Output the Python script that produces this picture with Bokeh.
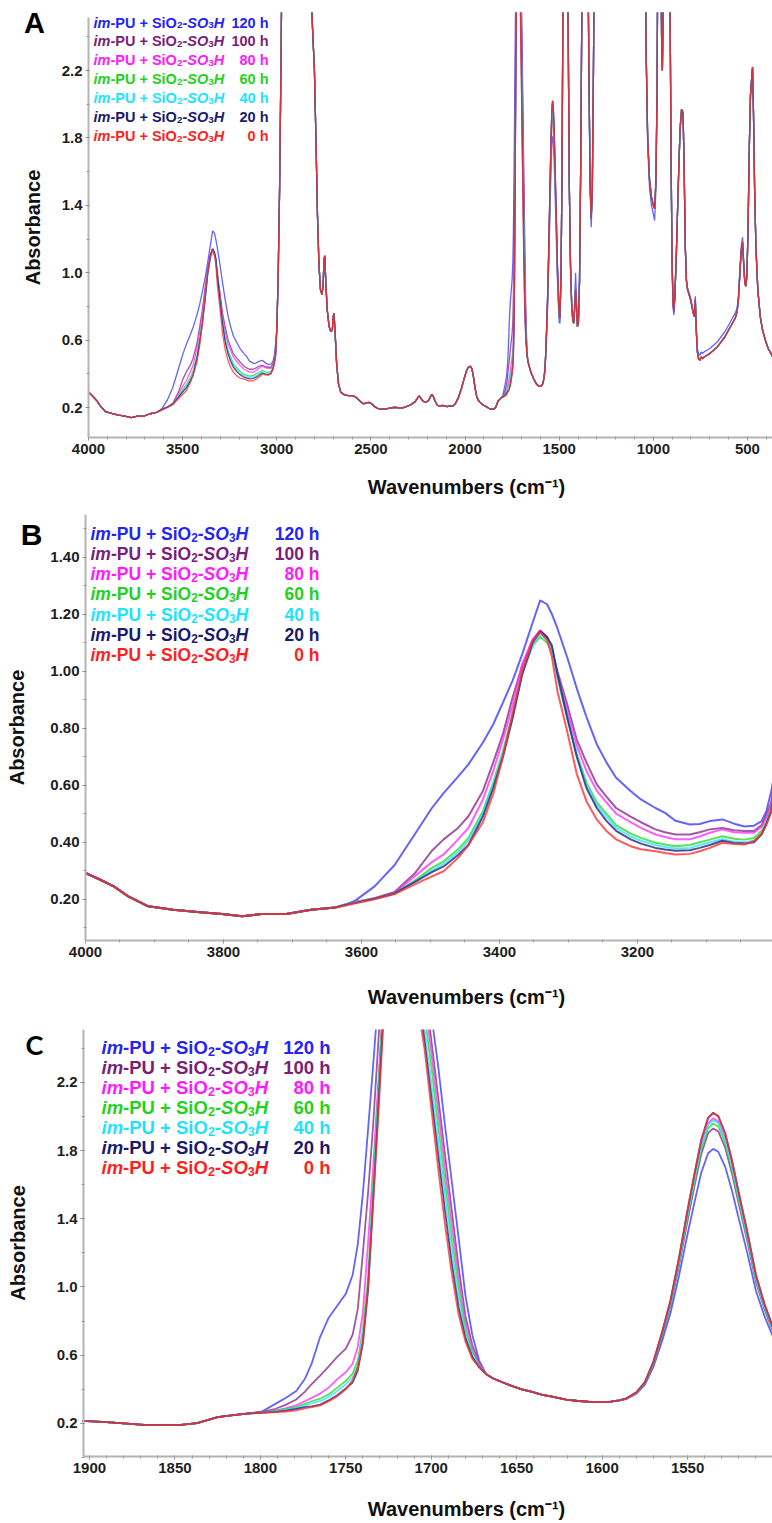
from bokeh.plotting import figure
from bokeh.layouts import column
from bokeh.models import Label, Range1d, FixedTicker, NumeralTickFormatter, ColumnDataSource
from bokeh.embed import file_html
from bokeh.resources import INLINE

FONT = "Liberation Sans"

# ------------------------------------------------------------------ data
series_labels = ["120 h", "100 h", "80 h", "60 h", "40 h", "20 h", "0 h"]
text_colors = ["#2525f2", "#7a1e7a", "#ff1aff", "#1fd21f", "#1ee3ff", "#1a1a6e", "#ff1f1f"]
line_colors = ["#3c3cff", "#8a2e8a", "#ff33ff", "#2edb2e", "#33e3ff", "#24247a", "#ff3030"]

# N-H stretching region (shared part, 4000-3638 cm-1)
wn_nh_base = [4000, 3980, 3959, 3938, 3909, 3873, 3838, 3802, 3773, 3745, 3709, 3673, 3638]
abs_nh_base = [0.292, 0.27, 0.245, 0.21, 0.175, 0.163, 0.155, 0.148, 0.14, 0.148, 0.148, 0.163, 0.171]

wn_nh = [3623, 3609, 3581, 3552, 3523, 3498, 3481, 3460, 3445, 3424, 3409, 3395, 3381, 3367,
         3352, 3341, 3331, 3324, 3316, 3302, 3288, 3274, 3259, 3245, 3231, 3210, 3195, 3174,
         3160, 3145, 3124, 3110, 3095, 3077, 3060, 3045, 3031, 3020, 3013, 3006]
abs_nh_120 = [0.182, 0.195, 0.245, 0.32, 0.427, 0.52, 0.572, 0.63, 0.673, 0.75, 0.814, 0.89, 0.967, 1.06,
              1.17, 1.249, 1.235, 1.20, 1.15, 1.05, 0.94, 0.84, 0.744, 0.68, 0.626, 0.58, 0.55, 0.52,
              0.503, 0.475, 0.462, 0.464, 0.474, 0.48, 0.465, 0.455, 0.458, 0.474, 0.51, 0.58]
abs_nh_100 = [0.18, 0.19, 0.203, 0.225, 0.29, 0.37, 0.41, 0.45, 0.491, 0.58, 0.68, 0.78, 0.908, 1.02,
              1.11, 1.143, 1.12, 1.073, 1.00, 0.885, 0.76, 0.68, 0.603, 0.56, 0.52, 0.49, 0.47, 0.445,
              0.435, 0.427, 0.427, 0.435, 0.445, 0.45, 0.442, 0.439, 0.439, 0.46, 0.497, 0.54]
abs_nh_80 = [0.18, 0.19, 0.203, 0.222, 0.28, 0.33, 0.357, 0.41, 0.45, 0.55, 0.65, 0.76, 0.88, 1.026,
             1.11, 1.143, 1.11, 1.084, 0.99, 0.861, 0.74, 0.65, 0.58, 0.54, 0.50, 0.47, 0.45, 0.427,
             0.418, 0.41, 0.41, 0.42, 0.433, 0.445, 0.435, 0.433, 0.433, 0.455, 0.486, 0.535]
abs_nh_60 = [0.18, 0.188, 0.202, 0.22, 0.265, 0.31, 0.333, 0.375, 0.415, 0.51, 0.61, 0.72, 0.85, 0.996,
             1.09, 1.12, 1.10, 1.073, 0.98, 0.838, 0.71, 0.61, 0.54, 0.50, 0.46, 0.43, 0.415, 0.398,
             0.392, 0.386, 0.39, 0.40, 0.409, 0.421, 0.412, 0.409, 0.415, 0.44, 0.474, 0.52]
abs_nh_40 = [0.18, 0.188, 0.202, 0.22, 0.262, 0.30, 0.325, 0.365, 0.405, 0.50, 0.60, 0.71, 0.84, 0.99,
             1.09, 1.13, 1.11, 1.08, 0.98, 0.84, 0.71, 0.60, 0.53, 0.49, 0.45, 0.42, 0.405, 0.39,
             0.383, 0.378, 0.38, 0.39, 0.40, 0.41, 0.402, 0.40, 0.405, 0.43, 0.47, 0.515]
abs_nh_20 = [0.18, 0.187, 0.202, 0.22, 0.26, 0.295, 0.315, 0.355, 0.39, 0.49, 0.59, 0.70, 0.835, 0.99,
             1.10, 1.14, 1.12, 1.09, 0.99, 0.84, 0.70, 0.59, 0.52, 0.475, 0.44, 0.41, 0.395, 0.38,
             0.374, 0.37, 0.372, 0.38, 0.39, 0.405, 0.397, 0.395, 0.40, 0.428, 0.465, 0.51]
abs_nh_0 = [0.178, 0.186, 0.2, 0.218, 0.252, 0.28, 0.298, 0.345, 0.39, 0.47, 0.57, 0.70, 0.85, 1.00,
            1.105, 1.137, 1.11, 1.05, 0.93, 0.79, 0.64, 0.544, 0.48, 0.439, 0.41, 0.386, 0.375, 0.368,
            0.362, 0.357, 0.359, 0.368, 0.38, 0.398, 0.394, 0.392, 0.404, 0.43, 0.462, 0.51]

# C-H region and baseline, 3000-1912 cm-1 (all series overlap)
wn_mid = [3000, 2993, 2985, 2977, 2970, 2830, 2818, 2810, 2800, 2792,
          2784, 2776, 2768, 2760, 2754, 2749, 2745, 2740, 2732, 2722,
          2712, 2705, 2700, 2696, 2690, 2682, 2672, 2660, 2640, 2620,
          2600, 2585, 2570, 2555, 2540, 2525, 2510, 2495, 2480, 2465,
          2445, 2420, 2400, 2380, 2360, 2345, 2325, 2305, 2285, 2265,
          2250, 2243, 2235, 2222, 2208, 2195, 2185, 2177, 2170, 2160,
          2148, 2135, 2120, 2108, 2095, 2080, 2065, 2050, 2035, 2020,
          2005, 1993, 1982, 1972, 1963, 1955, 1946, 1937, 1925, 1912]
abs_mid = [0.66, 0.95, 1.5, 2.3, 3.2, 3.2, 2.7, 2.45, 2.2, 1.8,
           1.35, 1.05, 0.9, 0.87, 0.92, 1.08, 1.1, 0.95, 0.78, 0.68,
           0.65, 0.66, 0.74, 0.76, 0.64, 0.46, 0.34, 0.29, 0.275, 0.27,
           0.27, 0.265, 0.25, 0.235, 0.222, 0.228, 0.23, 0.222, 0.205, 0.195,
           0.19, 0.192, 0.196, 0.2, 0.2, 0.196, 0.2, 0.208, 0.218, 0.235,
           0.26, 0.268, 0.255, 0.236, 0.232, 0.24, 0.26, 0.278, 0.27, 0.24,
           0.215, 0.207, 0.212, 0.21, 0.205, 0.21, 0.208, 0.225, 0.26, 0.31,
           0.37, 0.415, 0.44, 0.445, 0.43, 0.38, 0.31, 0.26, 0.235, 0.222]

# carbonyl region 1904-1500 cm-1
wn_c_base = [1904, 1890, 1880, 1866, 1848, 1837, 1825, 1817, 1808]
abs_c_base = [0.215, 0.207, 0.2, 0.19, 0.19, 0.202, 0.237, 0.247, 0.257]

wn_c_rise = [1799, 1791, 1785, 1779, 1774, 1770, 1765, 1760, 1755, 1750, 1746, 1743, 1740, 1737, 1734, 1731, 1728]
abs_rise_120 = [0.27, 0.316, 0.35, 0.39, 0.46, 0.55, 0.708, 0.82, 0.89, 0.96, 1.07, 1.25, 1.55, 1.92, 2.30, 2.7, 3.0]
abs_rise_100 = [0.267, 0.286, 0.31, 0.34, 0.385, 0.43, 0.48, 0.535, 0.59, 0.639, 0.72, 0.87, 1.2, 1.55, 1.95, 2.43, 2.9]
abs_rise_80 = [0.265, 0.275, 0.29, 0.306, 0.33, 0.35, 0.375, 0.41, 0.46, 0.5, 0.55, 0.65, 0.85, 1.257, 1.7, 2.2, 2.7]
abs_rise_60 = [0.265, 0.273, 0.285, 0.296, 0.315, 0.33, 0.345, 0.37, 0.41, 0.45, 0.492, 0.57, 0.75, 1.05, 1.6, 2.15, 2.7]
abs_rise_40 = [0.264, 0.27, 0.28, 0.29, 0.305, 0.318, 0.33, 0.355, 0.39, 0.43, 0.47, 0.54, 0.71, 1.0, 1.55, 2.1, 2.65]
abs_rise_20 = [0.263, 0.268, 0.275, 0.285, 0.295, 0.30, 0.31, 0.335, 0.365, 0.405, 0.44, 0.51, 0.67, 0.98, 1.5, 2.05, 2.6]
abs_rise_0 = [0.262, 0.266, 0.27, 0.276, 0.288, 0.295, 0.306, 0.33, 0.36, 0.40, 0.453, 0.53, 0.68, 1.0, 1.5, 2.0, 2.55]

wn_c_top = [1724, 1716, 1712]
abs_c_top = [3.4, 3.6, 3.5]

wn_c_fall = [1708, 1704, 1700, 1696, 1692, 1688, 1684, 1680, 1676, 1672]
abs_fall_120 = [3.5, 3.1, 2.6, 2.3, 1.95, 1.62, 1.29, 0.95, 0.72, 0.57]
abs_fall_100 = [3.3, 2.8, 2.45, 2.12, 1.78, 1.45, 1.12, 0.83, 0.66, 0.555]
abs_fall_80 = [3.2, 2.7, 2.38, 2.04, 1.70, 1.37, 1.06, 0.79, 0.64, 0.55]
abs_fall_60 = [3.1, 2.6, 2.3, 1.95, 1.62, 1.29, 1.0, 0.75, 0.62, 0.54]
abs_fall_40 = [2.9, 2.52, 2.2, 1.86, 1.54, 1.22, 0.94, 0.72, 0.60, 0.535]
abs_fall_20 = [2.75, 2.45, 2.12, 1.78, 1.45, 1.14, 0.88, 0.70, 0.59, 0.53]
abs_fall_0 = [2.65, 2.4, 2.05, 1.70, 1.37, 1.08, 0.84, 0.68, 0.58, 0.53]

wn_c_valley = [1668, 1664, 1658, 1653, 1647, 1641, 1635, 1630, 1621, 1615, 1608, 1601, 1595, 1590]
abs_c_valley = [0.49, 0.465, 0.44, 0.42, 0.40, 0.385, 0.368, 0.358, 0.34, 0.333, 0.327, 0.325, 0.328, 0.335]

wn_c_peak = [1586, 1580, 1575, 1570, 1565, 1560, 1555, 1550, 1546, 1542,
             1538, 1535, 1532, 1528, 1524, 1520, 1515, 1510, 1505, 1500]
abs_peak_120 = [0.343, 0.374, 0.426, 0.531, 0.68, 0.847, 1.066, 1.311, 1.495, 1.67,
                1.784, 1.81, 1.793, 1.705, 1.565, 1.399, 1.197, 0.978, 0.829, 0.707]
abs_peak_100 = [0.344, 0.377, 0.434, 0.548, 0.709, 0.889, 1.125, 1.39, 1.59, 1.779,
                1.902, 1.93, 1.912, 1.817, 1.665, 1.485, 1.268, 1.031, 0.87, 0.737]
abs_peak_80 = [0.345, 0.379, 0.438, 0.556, 0.723, 0.909, 1.155, 1.43, 1.636, 1.832,
               1.96, 1.99, 1.97, 1.872, 1.715, 1.528, 1.302, 1.057, 0.89, 0.752]
abs_peak_60 = [0.345, 0.378, 0.436, 0.552, 0.716, 0.899, 1.14, 1.41, 1.612, 1.805,
               1.93, 1.959, 1.94, 1.843, 1.689, 1.506, 1.284, 1.043, 0.879, 0.745]
abs_peak_40 = [0.345, 0.379, 0.437, 0.554, 0.72, 0.906, 1.15, 1.423, 1.628, 1.823,
               1.95, 1.979, 1.96, 1.862, 1.706, 1.521, 1.296, 1.052, 0.886, 0.75]
abs_peak_20 = [0.346, 0.382, 0.442, 0.562, 0.732, 0.922, 1.172, 1.452, 1.662, 1.862,
               1.992, 2.022, 2.002, 1.902, 1.742, 1.552, 1.322, 1.072, 0.902, 0.762]
abs_peak_0 = [0.345, 0.38, 0.44, 0.56, 0.73, 0.92, 1.17, 1.45, 1.66, 1.86,
              1.99, 2.02, 2.0, 1.9, 1.74, 1.55, 1.32, 1.07, 0.90, 0.76]

# fingerprint region 1496-365 cm-1
wn_tail = [1496, 1490, 1485, 1480, 1476, 1460, 1452, 1446, 1440, 1434,
           1428, 1423, 1418, 1413, 1408, 1403, 1398, 1392, 1386, 1380,
           1375, 1350, 1342, 1336, 1330, 1324, 1318, 1312, 1045, 1038,
           1030, 1020, 1010, 1000, 993, 986, 980, 975, 962, 956,
           952, 948, 943, 918, 910, 905, 900, 895, 891, 886,
           878, 868, 858, 850, 842, 836, 830, 824, 818, 810,
           802, 795, 788, 782, 777, 772, 766, 760, 753, 746,
           740, 730, 715, 700, 680, 660, 640, 620, 600, 580,
           565, 555, 548, 540, 533, 526, 520, 514, 509, 503,
           497, 490, 484, 478, 473, 468, 462, 455, 445, 432,
           420, 405, 390, 365]
abs_tail = [0.73, 1.0, 1.6, 2.6, 3.2, 3.2, 2.4, 1.5, 1.05, 0.82,
            0.72, 0.70, 0.78, 0.90, 0.80, 0.68, 0.70, 0.95, 1.6, 2.5,
            3.2, 3.2, 2.2, 1.55, 1.32, 1.5, 2.2, 3.2, 3.2, 2.3,
            1.8, 1.55, 1.45, 1.40, 1.38, 1.55, 2.1, 3.2, 3.2, 2.4,
            2.2, 2.5, 3.2, 3.2, 2.4, 1.6, 1.05, 0.82, 0.77, 0.85,
            1.1, 1.5, 1.85, 1.97, 1.95, 1.6, 1.15, 0.95, 0.90, 0.87,
            0.84, 0.80, 0.76, 0.74, 0.84, 0.66, 0.53, 0.49, 0.48, 0.50,
            0.49, 0.50, 0.51, 0.52, 0.54, 0.56, 0.59, 0.62, 0.66, 0.70,
            0.73, 0.77, 0.84, 1.0, 1.13, 1.18, 1.05, 0.94, 0.92, 0.98,
            1.25, 1.75, 2.05, 2.15, 2.22, 1.95, 1.5, 1.15, 0.9, 0.74,
            0.66, 0.6, 0.55, 0.50]
abs_tail_120 = [0.70, 1.0, 1.6, 2.6, 3.2, 3.2, 2.4, 1.5, 1.05, 0.84,
                0.74, 0.72, 0.82, 1.0, 0.84, 0.69, 0.71, 0.95, 1.6, 2.5,
                3.2, 3.2, 2.2, 1.5, 1.27, 1.45, 2.2, 3.2, 3.2, 2.3,
                1.75, 1.5, 1.4, 1.35, 1.31, 1.5, 2.1, 3.2, 3.2, 2.4,
                2.2, 2.5, 3.2, 3.2, 2.4, 1.55, 1.0, 0.79, 0.75, 0.84,
                1.1, 1.5, 1.85, 1.97, 1.95, 1.6, 1.15, 0.96, 0.91, 0.88,
                0.85, 0.81, 0.77, 0.75, 0.86, 0.68, 0.55, 0.52, 0.51, 0.53,
                0.52, 0.53, 0.54, 0.55, 0.57, 0.59, 0.62, 0.65, 0.69, 0.73,
                0.76, 0.79, 0.86, 1.03, 1.16, 1.21, 1.07, 0.95, 0.93, 0.99,
                1.25, 1.75, 2.05, 2.15, 2.22, 1.95, 1.5, 1.15, 0.9, 0.74,
                0.66, 0.6, 0.55, 0.50]

abs_nh = [abs_nh_120, abs_nh_100, abs_nh_80, abs_nh_60, abs_nh_40, abs_nh_20, abs_nh_0]
abs_rise = [abs_rise_120, abs_rise_100, abs_rise_80, abs_rise_60, abs_rise_40, abs_rise_20, abs_rise_0]
abs_fall = [abs_fall_120, abs_fall_100, abs_fall_80, abs_fall_60, abs_fall_40, abs_fall_20, abs_fall_0]
abs_peak = [abs_peak_120, abs_peak_100, abs_peak_80, abs_peak_60, abs_peak_40, abs_peak_20, abs_peak_0]
abs_tails = [abs_tail_120] + [abs_tail] * 6

# axis ticks
a_xticks = [4000, 3500, 3000, 2500, 2000, 1500, 1000, 500]
a_xminor = list(range(400, 4001, 100))
a_yticks = [0.2, 0.6, 1.0, 1.4, 1.8, 2.2]
a_yminor = [0.4, 0.8, 1.2, 1.6, 2.0, 2.4]
b_xticks = [4000, 3800, 3600, 3400, 3200]
b_xminor = list(range(3050, 4001, 50))
b_yticks = [0.2, 0.4, 0.6, 0.8, 1.0, 1.2, 1.4]
b_yminor = [0.1, 0.3, 0.5, 0.7, 0.9, 1.1, 1.3, 1.5]
c_xticks = [1900, 1850, 1800, 1750, 1700, 1650, 1600, 1550]
c_xminor = list(range(1510, 1901, 10))
c_yticks = [0.2, 0.6, 1.0, 1.4, 1.8, 2.2]
c_yminor = [0.0, 0.4, 0.8, 1.2, 1.6, 2.0, 2.4]

wn_full = wn_nh_base + wn_nh + wn_mid + wn_c_base + wn_c_rise + wn_c_top + wn_c_fall + wn_c_valley + wn_c_peak + wn_tail


def series_full(i):
    return (abs_nh_base + abs_nh[i] + abs_mid + abs_c_base + abs_rise[i] + abs_c_top
            + abs_fall[i] + abs_c_valley + abs_peak[i] + abs_tails[i])


for i in range(7):
    assert len(series_full(i)) == len(wn_full), i

# Arial / Liberation Sans bold advance widths (1/1000 em)
W = {'i': 278, 'm': 889, '-': 333, 'P': 667, 'U': 722, '+': 584, ' ': 278, 'S': 667,
     'O': 778, '2': 556, '3': 556, 'H': 722, '0': 556, '1': 556, '4': 556, '6': 556,
     '8': 556, 'h': 611}


def tw(s, size):
    return sum(W[c] for c in s) * size / 1000.0


PAGE_W = 772


def make_panel(fig_top, fig_h, frame_top, plot_top, plot_bottom, plot_left,
               x_left, x_right, y_bottom, y_top, xt, xm, yt, ym, yfmt, ylab_standoff, lw):
    """Frame covers the whole canvas below frame_top; the axes are pinned at the plot edges."""
    sx = (PAGE_W - plot_left) / (x_left - x_right)
    sy = (plot_bottom - plot_top) / (y_top - y_bottom)
    fig_bottom = fig_top + fig_h
    xr = Range1d(x_left + plot_left / sx, x_right)
    yr = Range1d(y_bottom - (fig_bottom - plot_bottom) / sy, y_top + (plot_top - frame_top) / sy)
    p = figure(width=PAGE_W, height=fig_h, x_range=xr, y_range=yr,
               output_backend="svg", toolbar_location=None)
    p.min_border_left = 0
    p.min_border_right = 0
    p.min_border_bottom = 0
    p.min_border_top = frame_top - fig_top
    p.outline_line_color = None
    p.grid.visible = False
    p.background_fill_color = "white"
    p.border_fill_color = "white"
    p.xaxis.fixed_location = y_bottom
    p.xaxis.bounds = (min(x_left, x_right), max(x_left, x_right))
    p.yaxis.fixed_location = x_left
    p.yaxis.bounds = (y_bottom, y_top)
    p.xaxis.ticker = FixedTicker(ticks=xt, minor_ticks=xm)
    p.yaxis.ticker = FixedTicker(ticks=yt, minor_ticks=ym)
    p.yaxis.formatter = NumeralTickFormatter(format=yfmt)
    for ax in (p.xaxis[0], p.yaxis[0]):
        ax.axis_line_color = "#b4b4b4"
        ax.axis_line_width = 2
        ax.major_tick_line_color = "#8c8c8c"
        ax.minor_tick_line_color = "#9a9a9a"
        ax.major_tick_out = 3
        ax.major_tick_in = 1
        ax.minor_tick_out = 2
        ax.minor_tick_in = 1
        ax.major_label_text_font = FONT
        ax.major_label_text_font_style = "bold"
        ax.major_label_text_font_size = "15px"
        ax.major_label_text_color = "#1e1e1e"
        ax.major_label_standoff = 3
    p.yaxis.axis_label = "Absorbance"
    p.yaxis.axis_label_text_font = FONT
    p.yaxis.axis_label_text_font_style = "bold"
    p.yaxis.axis_label_text_font_size = "20px"
    p.yaxis.axis_label_text_color = "#111111"
    p.yaxis.axis_label_standoff = ylab_standoff
    hi = max(x_left, x_right) + 2
    for i in range(7):
        pts = [(w, a) for w, a in zip(wn_full, series_full(i)) if w <= hi]
        src = ColumnDataSource(dict(x=[q[0] for q in pts], y=[q[1] for q in pts]))
        p.line("x", "y", source=src, line_color=line_colors[i], line_width=lw, line_alpha=0.8)
    return p, fig_h


def add_texts(p, fb, letter, letter_pos, letter_font, letter_size,
              x0, y0, dy, fs, xr, title_cx, title_cy):
    # screen units: x from canvas left, y up from canvas bottom (= frame bottom here);
    # y values below are the visual centre lines of the texts (local canvas coords).
    lx, lcy = letter_pos
    p.add_layout(Label(x=lx, y=fb - lcy, x_units="screen", y_units="screen",
                       text=letter, text_font=letter_font, text_font_style="bold",
                       text_font_size=f"{letter_size}px", text_color="#000000",
                       text_align="center", text_baseline="alphabetic"))
    for i, (lab, col) in enumerate(zip(series_labels, text_colors)):
        sy = fb - (y0 + i * dy)
        x = x0
        sub = fs * 0.68
        pieces = [("im", "bold italic", fs, 0.0), ("-PU + SiO", "bold", fs, 0.0),
                  ("2", "bold", sub, -0.2 * fs), ("-SO", "bold italic", fs, 0.0),
                  ("3", "bold", sub, -0.2 * fs), ("H", "bold italic", fs, 0.0)]
        for txt, style, size, dyb in pieces:
            p.add_layout(Label(x=x, y=sy + dyb, x_units="screen", y_units="screen", text=txt,
                               text_font=FONT, text_font_style=style,
                               text_font_size=f"{size:.1f}px", text_color=col,
                               text_align="left", text_baseline="alphabetic"))
            x += tw(txt, size)
        p.add_layout(Label(x=xr, y=sy, x_units="screen", y_units="screen", text=lab,
                           text_font=FONT, text_font_style="bold", text_font_size=f"{fs:.1f}px",
                           text_color=col, text_align="right", text_baseline="alphabetic"))
    p.add_layout(Label(x=title_cx, y=fb - title_cy, x_units="screen", y_units="screen",
                       text="Wavenumbers (cm\u207b\u00b9)", text_font=FONT, text_font_style="bold",
                       text_font_size="20px", text_color="#111111",
                       text_align="center", text_baseline="middle"))


# Panel A: canvas y 0-500, plot 17-437, plot left 88
pA, fbA = make_panel(0, 500, 12, 17, 437, 88, 4000, 367, 0.022, 2.515,
                     a_xticks, a_xminor, a_yticks, a_yminor, "0.0", 15, 1.3)
add_texts(pA, fbA, "A", (34, 22), FONT, 29, 93, 22, 18.85, 14.5, 268, 466, 486)

# Panel B: canvas y 500-1014, plot 514-940, plot left 85
pB, fbB = make_panel(500, 514, 514, 514, 940, 85, 4000, 3004.3, 0.055, 1.55,
                     b_xticks, b_xminor, b_yticks, b_yminor, "0.00", 19, 2.0)
add_texts(pB, fbB, "B", (31, 34), FONT, 30, 90, 33, 20.3, 17.5, 319, 466, 496)

# Panel C: canvas y 1014-1523, plot 1029-1456, plot left 83
pC, fbC = make_panel(1014, 509, 1029, 1029, 1456, 83, 1903.5, 1500.3, 0.006, 2.51,
                     c_xticks, c_xminor, c_yticks, c_yminor, "0.0", 25, 1.8)
add_texts(pC, fbC, "C", (34, 30), "Lato", 27, 101, 33, 20.0, 18.5, 330, 466, 494)

layout = column(pA, pB, pC, spacing=0)
open("out.html", "w").write(file_html(layout, INLINE))
